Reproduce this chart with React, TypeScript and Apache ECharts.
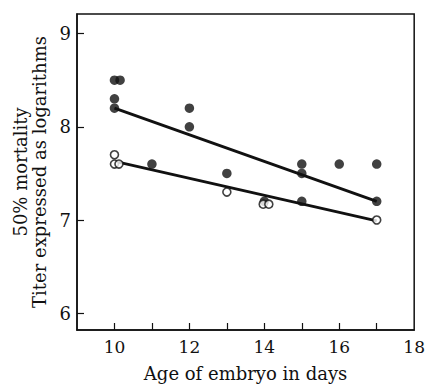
import React, { useEffect, useRef } from "react";
import * as echarts from "echarts";

const filledX = [10, 10.15, 10, 10, 11, 12, 12, 13, 14, 15, 15, 15, 16, 17, 17];
const filledY = [8.5, 8.5, 8.3, 8.2, 7.6, 8.2, 8.0, 7.5, 7.2, 7.6, 7.5, 7.2, 7.6, 7.6, 7.2];
const hollowX = [10, 10, 10.12, 13, 13.97, 14.12, 17];
const hollowY = [7.7, 7.6, 7.6, 7.3, 7.17, 7.17, 7.0];
const filledFitX = [10, 17];
const filledFitY = [8.2, 7.2];
const hollowFitX = [10.1, 17];
const hollowFitY = [7.62, 6.99];
const xTicks = [10, 11, 12, 13, 14, 15, 16, 17];
const xLabels = [10, 12, 14, 16, 18];
const yTicks = [6, 7, 8, 9];

const zip = (xs: number[], ys: number[]) => xs.map((x, i) => [x, ys[i]]);

const FONT = "'DejaVu Serif', 'Liberation Serif', serif";

export default function App() {
  const ref = useRef<HTMLDivElement>(null);
  useEffect(() => {
    const chart = echarts.init(ref.current!, null, { renderer: "svg" });
    chart.setOption({
      animation: false,
      backgroundColor: "#ffffff",
      grid: {
        left: 77,
        top: 14,
        right: 11,
        bottom: 49,
        show: true,
        borderColor: "#111",
        borderWidth: 1.5,
        backgroundColor: "transparent",
      },
      xAxis: {
        type: "value",
        min: 9,
        max: 18,
        name: "Age of embryo in days",
        nameLocation: "middle",
        nameGap: 34,
        nameTextStyle: { fontFamily: FONT, fontSize: 18, color: "#111" },
        axisLine: { show: true, lineStyle: { color: "#111", width: 1.5 } },
        axisTick: {
          show: true,
          inside: true,
          length: 7,
          customValues: xTicks,
          lineStyle: { color: "#111", width: 1.2 },
        },
        axisLabel: {
          customValues: xLabels,
          fontFamily: FONT,
          fontSize: 17,
          color: "#111",
          margin: 8,
          showMaxLabel: true,
        },
        splitLine: { show: false },
      },
      yAxis: {
        type: "value",
        min: 5.82,
        max: 9.21,
        name: "50% mortality\nTiter expressed as logarithms",
        nameLocation: "middle",
        nameRotate: 90,
        nameGap: 27,
        nameTextStyle: { fontFamily: FONT, fontSize: 18, color: "#111", lineHeight: 19 },
        axisLine: { show: true, lineStyle: { color: "#111", width: 1.5 } },
        axisTick: {
          show: true,
          inside: true,
          length: 7,
          customValues: yTicks,
          lineStyle: { color: "#111", width: 1.2 },
        },
        axisLabel: {
          customValues: yTicks,
          fontFamily: FONT,
          fontSize: 18,
          color: "#111",
          margin: 6,
        },
        splitLine: { show: false },
      },
      series: [
        {
          type: "line",
          data: zip(filledFitX, filledFitY),
          showSymbol: false,
          symbol: "none",
          lineStyle: { color: "#111", width: 2.8 },
          z: 1,
        },
        {
          type: "line",
          data: zip(hollowFitX, hollowFitY),
          showSymbol: false,
          symbol: "none",
          lineStyle: { color: "#111", width: 2.8 },
          z: 1,
        },
        {
          type: "scatter",
          data: zip(filledX, filledY),
          symbol: "circle",
          symbolSize: 9.5,
          itemStyle: { color: "#111" },
          z: 3,
        },
        {
          type: "scatter",
          data: zip(hollowX, hollowY),
          symbol: "circle",
          symbolSize: 8,
          itemStyle: { color: "#fff", borderColor: "#111", borderWidth: 1.6 },
          z: 4,
        },
      ],
    });
    return () => chart.dispose();
  }, []);
  return (
    <div
      ref={ref}
      style={{ position: "fixed", left: 0, top: 0, width: 428, height: 387, background: "#fff" }}
    />
  );
}
